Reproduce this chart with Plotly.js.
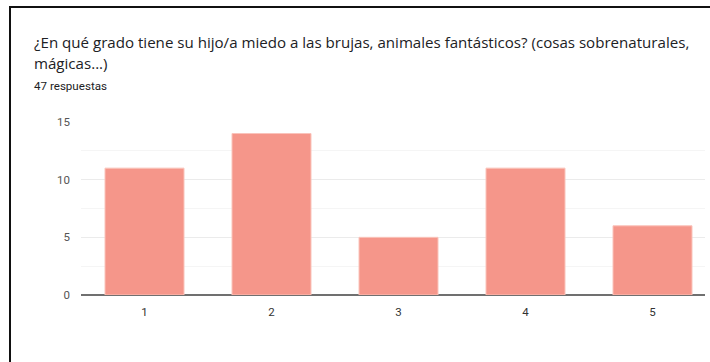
<!DOCTYPE html>
<html>
<head>
<meta charset="utf-8">
<script src="https://cdn.plot.ly/plotly-3.0.1.min.js"></script>
<style>
html, body { margin:0; padding:0; background:#fff; overflow:hidden; }
#chart { position:absolute; left:0; top:0; width:710px; height:362px; }
</style>
</head>
<body>
<div id="chart"></div>
<script>
const categories = ['1', '2', '3', '4', '5'];
const counts = [11, 14, 5, 11, 6];
const yTicks = [0, 5, 10, 15];
const titleLine1 = '¿En qué grado tiene su hijo/a miedo a las brujas, animales fantásticos? (cosas sobrenaturales,';
const titleLine2 = 'mágicas...)';
const subtitle = '47 respuestas';

const trace = {
  type: 'bar',
  x: categories.map(Number),
  y: counts,
  marker: { color: '#F5968A', line: { color: '#FAC4BB', width: 1 } },
  hoverinfo: 'skip'
};

const plotW = 624;
const px = v => (v - 81) / plotW;
const py = v => (295 - v) / 173;
const titleFont = { family: 'Open Sans, sans-serif', size: 15.1, color: '#202124' };

const layout = {
  width: 710, height: 362,
  margin: { l: 81, r: 710 - 81 - plotW, t: 122, b: 67 },
  paper_bgcolor: '#fff', plot_bgcolor: '#fff',
  bargap: 0.378,
  showlegend: false,
  shapes: [
    { type: 'line', xref: 'paper', yref: 'paper', x0: px(10), x1: px(10), y0: py(6), y1: py(370), line: { color: '#111', width: 2 } },
    { type: 'line', xref: 'paper', yref: 'paper', x0: px(9), x1: px(720), y0: py(7), y1: py(7), line: { color: '#111', width: 2 } }
  ],
  annotations: [
    { text: titleLine1, xref: 'paper', yref: 'paper', x: px(32), y: py(42), xanchor: 'left', yanchor: 'middle', showarrow: false, font: titleFont },
    { text: titleLine2, xref: 'paper', yref: 'paper', x: px(32), y: py(63), xanchor: 'left', yanchor: 'middle', showarrow: false, font: titleFont },
    { text: subtitle, xref: 'paper', yref: 'paper', x: px(32), y: py(86), xanchor: 'left', yanchor: 'middle', showarrow: false, font: { family: 'Roboto, sans-serif', size: 11.6, color: '#202124' } }
  ],
  xaxis: {
    range: [0.5, 0.5 + plotW/127],
    tickmode: 'array', tickvals: categories.map(Number), ticktext: categories,
    showgrid: false, zeroline: false, showline: false, ticks: '',
    ticklabelstandoff: 8,
    tickfont: { family: 'Roboto, Arial, sans-serif', size: 11.5, color: '#333' },
    fixedrange: true
  },
  yaxis: {
    range: [0, 15],
    tickmode: 'array', tickvals: yTicks,
    showgrid: true, gridcolor: '#EBEBEB', gridwidth: 1,
    minor: { dtick: 2.5, showgrid: true, gridcolor: '#F5F5F5', gridwidth: 1 },
    zeroline: true, zerolinecolor: '#707070', zerolinewidth: 1.5,
    ticks: '', ticklabelstandoff: 10,
    tickfont: { family: 'Roboto, Arial, sans-serif', size: 11.5, color: '#555' },
    fixedrange: true
  }
};

Plotly.newPlot('chart', [trace], layout, { displayModeBar: false, staticPlot: true });
</script>
</body>
</html>
